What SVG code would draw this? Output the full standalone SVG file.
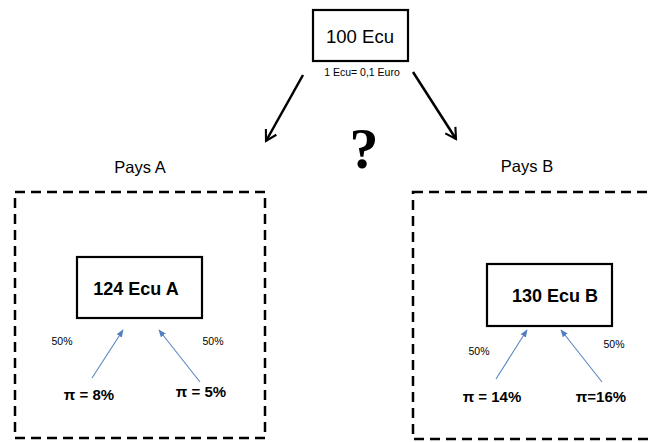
<svg xmlns="http://www.w3.org/2000/svg" width="651" height="442" viewBox="0 0 651 442">
<defs>
<style>
.t{font-family:"Liberation Sans",Arial,sans-serif;fill:#000}
.b{font-weight:bold}
.box{fill:#fff;stroke:#000;stroke-width:2.2}
.dash{fill:none;stroke:#000;stroke-width:2.5;stroke-dasharray:10 6}
.blk{stroke:#000;stroke-width:2.5;fill:none}
.blu{stroke:#5b86c0;stroke-width:1.1;fill:none}
</style>
<marker id="ah" viewBox="0 0 10 10" refX="8" refY="5" markerWidth="6" markerHeight="6" orient="auto" markerUnits="strokeWidth">
<path d="M1,1 L8,5 L1,9" fill="none" stroke="#000" stroke-width="1.4"/>
</marker>
<marker id="bh" viewBox="0 0 10 10" refX="9" refY="5" markerWidth="7" markerHeight="7" orient="auto" markerUnits="strokeWidth">
<path d="M0,1 L10,5 L0,9 Z" fill="#4f7fc0"/>
</marker>
</defs>
<rect width="651" height="442" fill="#fff"/>
<g id="top">
<rect class="box" x="313" y="10" width="95" height="51"/>
<text class="t" x="360" y="43" font-size="18.5" text-anchor="middle">100 Ecu</text>
<text class="t" x="362" y="76" font-size="10.5" text-anchor="middle" fill="#222">1 Ecu= 0,1 Euro</text>
</g>
<text x="364" y="168" font-family="'Liberation Serif',serif" font-weight="bold" font-size="58" text-anchor="middle">?</text>
<g id="paysA">
<text class="t" x="140" y="173" font-size="16.5" text-anchor="middle">Pays A</text>
<rect class="dash" x="15" y="192" width="250" height="246"/>
</g>
<g id="nodeA">
<rect class="box" x="77" y="257" width="125" height="61"/>
<text class="t b" x="136" y="295" font-size="18" text-anchor="middle">124 Ecu A</text>
</g>
<g id="paysB">
<text class="t" x="527" y="172" font-size="16.5" text-anchor="middle">Pays B</text>
<rect class="dash" x="413" y="192" width="250" height="247"/>
</g>
<g id="nodeB">
<rect class="box" x="487" y="264" width="125" height="62"/>
<text class="t b" x="555" y="302" font-size="18" text-anchor="middle">130 Ecu B</text>
</g>
<g id="labels">
<text class="t" x="62" y="345" font-size="10.5" text-anchor="middle" fill="#333">50%</text>
<text class="t" x="213" y="345" font-size="10.5" text-anchor="middle" fill="#333">50%</text>
<text class="t b" x="89" y="400" font-size="15" text-anchor="middle">π = 8%</text>
<text class="t b" x="201" y="397" font-size="15" text-anchor="middle">π = 5%</text>
<text class="t" x="479" y="355" font-size="10.5" text-anchor="middle" fill="#333">50%</text>
<text class="t" x="614" y="348" font-size="10.5" text-anchor="middle" fill="#333">50%</text>
<text class="t b" x="492" y="402" font-size="15" text-anchor="middle">π = 14%</text>
<text class="t b" x="601" y="402" font-size="15" text-anchor="middle">π=16%</text>
</g>
<g id="connectors">
<line class="blk" x1="303" y1="75" x2="266" y2="141" marker-end="url(#ah)"/>
<line class="blk" x1="413" y1="72" x2="456" y2="139" marker-end="url(#ah)"/>
<line class="blu" x1="92" y1="378" x2="123" y2="330" marker-end="url(#bh)"/>
<line class="blu" x1="200" y1="382" x2="159" y2="330" marker-end="url(#bh)"/>
<line class="blu" x1="496" y1="379" x2="527" y2="330" marker-end="url(#bh)"/>
<line class="blu" x1="602" y1="382" x2="561" y2="330" marker-end="url(#bh)"/>
</g>
</svg>
